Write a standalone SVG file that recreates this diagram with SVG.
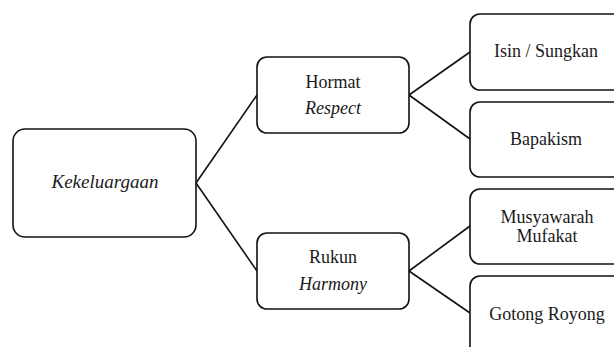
<svg xmlns="http://www.w3.org/2000/svg" width="614" height="347" viewBox="0 0 614 347">
<style>
  .box { fill: #ffffff; stroke: #111111; stroke-width: 1.6; }
  .conn line { stroke: #111111; stroke-width: 1.6; }
  text { font-family: 'Liberation Serif', 'Tinos', 'Times New Roman', 'DejaVu Serif', serif; font-size: 18px; fill: #1a1a1a; text-anchor: middle; }
  .it { font-style: italic; }
  .lg { font-size: 19px; }
</style>
<rect width="614" height="347" fill="#ffffff"/>
<g id="connectors" class="conn">
  <line x1="196" y1="183" x2="257" y2="95"/>
  <line x1="196" y1="183" x2="257" y2="271"/>
  <line x1="409" y1="95" x2="470" y2="52"/>
  <line x1="409" y1="95" x2="470" y2="139"/>
  <line x1="409" y1="271" x2="470" y2="226"/>
  <line x1="409" y1="271" x2="470" y2="313"/>
</g>
<g id="kekeluargaan">
  <rect class="box" x="13" y="129" width="183" height="108" rx="12"/>
  <text class="it lg" x="105" y="188">Kekeluargaan</text>
</g>
<g id="hormat">
  <rect class="box" x="257" y="57" width="152" height="76" rx="10"/>
  <text x="333" y="88">Hormat</text>
  <text class="it" x="333" y="114">Respect</text>
</g>
<g id="rukun">
  <rect class="box" x="257" y="233" width="152" height="76" rx="10"/>
  <text x="333" y="263">Rukun</text>
  <text class="it" x="333" y="290">Harmony</text>
</g>
<g id="isin">
  <rect class="box" x="470" y="14" width="170" height="76" rx="10"/>
  <text x="546" y="57">Isin / Sungkan</text>
</g>
<g id="bapakism">
  <rect class="box" x="470" y="102" width="170" height="75" rx="10"/>
  <text x="546" y="145">Bapakism</text>
</g>
<g id="musyawarah">
  <rect class="box" x="470" y="189" width="170" height="75" rx="10"/>
  <text x="547" y="223">Musyawarah</text>
  <text x="547" y="242">Mufakat</text>
</g>
<g id="gotong">
  <rect class="box" x="470" y="276" width="170" height="80" rx="10"/>
  <text x="547" y="320">Gotong Royong</text>
</g>
</svg>
